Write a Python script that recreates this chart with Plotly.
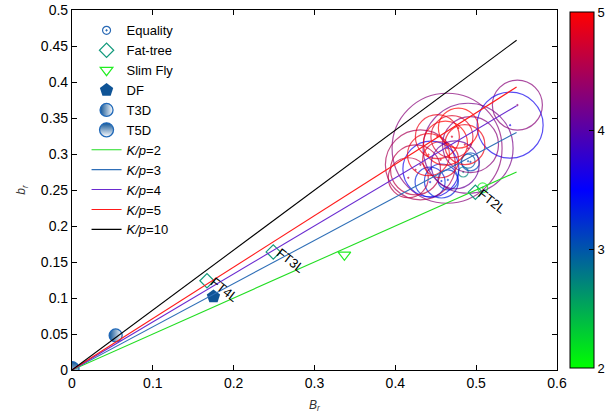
import plotly.graph_objects as go

# ---- data ----
eq_B = [0.457, 0.443, 0.465, 0.490, 0.484, 0.493, 0.551, 0.542, 0.464, 0.490, 0.431, 0.444,
        0.416, 0.452, 0.462, 0.470, 0.441, 0.486, 0.456, 0.478, 0.493, 0.425, 0.474, 0.508]
eq_b = [0.2625, 0.261, 0.264, 0.290, 0.275, 0.289, 0.368, 0.340, 0.308, 0.308, 0.285, 0.279,
        0.267, 0.324, 0.315, 0.324, 0.299, 0.313, 0.292, 0.336, 0.313, 0.278, 0.285, 0.253]
eq_size = [34, 30, 20, 14, 10, 18, 50, 66, 110, 90, 70, 56,
           40, 44, 44, 42, 42, 40, 36, 40, 56, 50, 48, 10]
eq_kp = [3.3, 3.3, 3.2, 3.0, 2.7, 3.1, 4.3, 3.6, 4.3, 4.2, 4.5, 3.6,
         4.6, 4.9, 5.0, 4.8, 4.9, 4.9, 4.8, 5.0, 4.3, 4.6, 4.1, 2.1]

ft_B = [0.499, 0.249, 0.167]
ft_b = [0.247, 0.164, 0.124]
ft_labels = ["FT2L", "FT3L", "FT4L"]

sf_B = [0.337]
sf_b = [0.160]

df_B = [0.175]
df_b = [0.102]

t3d_B = [0.054]
t3d_b = [0.048]
t5d_B = [0.0]
t5d_b = [0.002]

kp_names = ["2", "3", "4", "5", "10"]
line_B = [0.0, 0.55]
line_b_end = [0.275, 0.33, 0.367, 0.393, 0.458]
line_colors = ["#22dd22", "#2f6fb7", "#6a2bd0", "#ff1a1a", "#000000"]

xticks = [0, 0.1, 0.2, 0.3, 0.4, 0.5, 0.6]
yticks = [0, 0.05, 0.1, 0.15, 0.2, 0.25, 0.3, 0.35, 0.4, 0.45, 0.5]
cbar_ticks = [2, 3, 4, 5]

FONT = "Liberation Sans, Arial, sans-serif"
CSCALE = [[0, "rgb(0,255,0)"], [0.5, "rgb(0,0,255)"], [1, "rgb(255,0,0)"]]

fig = go.Figure()

# legend entry for Equality (small symbol as in the reference key)
fig.add_trace(go.Scatter(
    x=[None], y=[None], mode="markers", name="Equality", legendgroup="eq",
    marker=dict(symbol="circle-open-dot", size=8, color="#2a6ab5", line=dict(width=1.2)),
))

fig.add_trace(go.Scatter(
    x=eq_B, y=eq_b, mode="markers", name="Equality", legendgroup="eq", showlegend=False,
    marker=dict(symbol="circle-open-dot", size=eq_size, color=eq_kp,
                colorscale=CSCALE, cmin=2, cmax=5, line=dict(width=1.2),
                colorbar=dict(x=1.027, xanchor="left", y=0.5, yanchor="middle",
                              xpad=0, ypad=0,
                              len=0.99, lenmode="fraction", thickness=24,
                              outlinecolor="black", outlinewidth=1,
                              tickvals=cbar_ticks, ticks="inside", ticklen=5,
                              tickcolor="black",
                              tickfont=dict(family=FONT, size=13, color="black"))),
))

fig.add_trace(go.Scatter(
    x=ft_B, y=ft_b, mode="markers", name="Fat-tree",
    marker=dict(symbol="diamond-open", size=11, color="#139a7c", line=dict(width=1.2)),
))

fig.add_trace(go.Scatter(
    x=sf_B, y=sf_b, mode="markers", name="Slim Fly",
    marker=dict(symbol="triangle-down-open", size=11, color="#22ee22", line=dict(width=1.2)),
))

fig.add_trace(go.Scatter(
    x=df_B, y=df_b, mode="markers", name="DF",
    marker=dict(symbol="pentagon", size=14, color="#0f5496"),
))

fig.add_trace(go.Scatter(
    x=t3d_B, y=t3d_b, mode="markers", name="T3D",
    marker=dict(symbol="circle", size=13, color="#0f5496",
                gradient=dict(type="horizontal", color="white"),
                line=dict(width=1.3, color="#1f68b8")),
))

fig.add_trace(go.Scatter(
    x=t5d_B, y=t5d_b, mode="markers", name="T5D",
    marker=dict(symbol="circle", size=14, color="#0f5496",
                gradient=dict(type="vertical", color="white"),
                line=dict(width=1.3, color="#1f68b8")),
))

for name, end, col in zip(kp_names, line_b_end, line_colors):
    fig.add_trace(go.Scatter(
        x=line_B, y=[0.0, end], mode="lines", name=f"<i>K/p</i>={name}",
        line=dict(color=col, width=1.1),
    ))

for bx, by, lab in zip(ft_B, ft_b, ft_labels):
    fig.add_annotation(x=bx, y=by, xref="x", yref="y", text=lab, showarrow=False,
                       xshift=17, yshift=-9, textangle=38,
                       font=dict(family=FONT, size=13, color="black"))

axis_common = dict(showline=True, linecolor="black", linewidth=1.2, mirror="allticks",
                   ticks="inside", ticklen=5, tickcolor="black", showgrid=False,
                   zeroline=False, automargin=False,
                   tickfont=dict(family=FONT, size=14, color="black"))

fig.update_layout(
    width=610, height=420,
    margin=dict(l=72, r=53, t=10, b=50, autoexpand=False),
    paper_bgcolor="white", plot_bgcolor="white",
    xaxis=dict(range=[0, 0.6], tickvals=xticks, ticktext=[str(t) for t in xticks],
               title=dict(text="<i>B<sub>r</sub></i>", font=dict(family=FONT, size=12, color="#333"),
                          standoff=10),
               **axis_common),
    yaxis=dict(range=[0, 0.5], tickvals=yticks, ticktext=[str(t) for t in yticks],
               title=dict(text="<i>b<sub>r</sub></i>", font=dict(family=FONT, size=12, color="#333"),
                          standoff=12),
               **axis_common),
    legend=dict(x=0.03, y=0.985, xanchor="left", yanchor="top", bgcolor="rgba(0,0,0,0)",
                font=dict(family=FONT, size=13, color="black"),
                itemwidth=30, tracegroupgap=0),
    showlegend=True,
)

fig.write_html("out.html", config={"displayModeBar": False},
               post_script="document.body.style.margin='0px';")
